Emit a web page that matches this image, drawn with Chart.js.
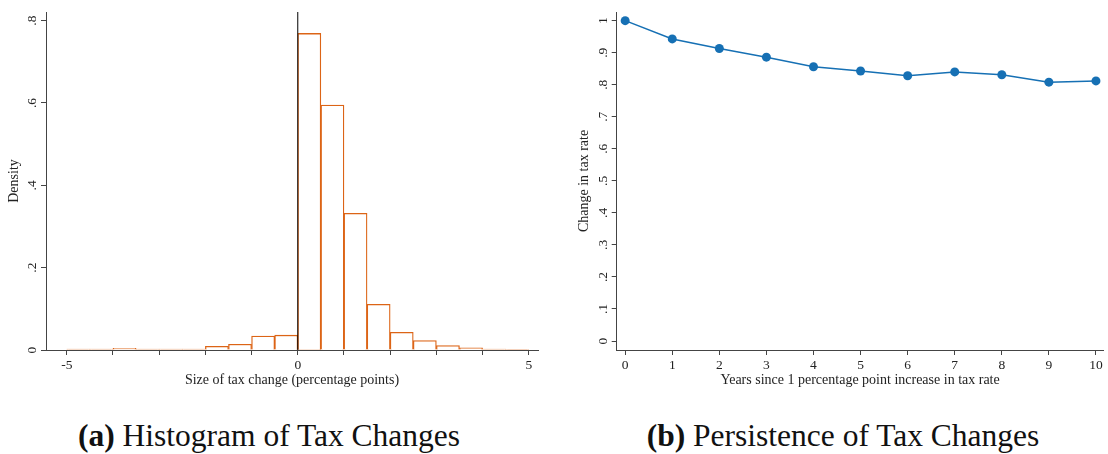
<!DOCTYPE html>
<html>
<head>
<meta charset="utf-8">
<script src="https://cdn.jsdelivr.net/npm/chart.js@4"></script>
<style>
	body { margin: 0; background: #fff; width: 1108px; height: 454px; position: relative; overflow: hidden; }
	#hist-wrap { position: absolute; left: 0; top: 0; width: 545px; height: 395px; }
	#line-wrap { position: absolute; left: 560px; top: 0; width: 548px; height: 395px; }
	.cap { position: absolute; top: 418px; font-family: "Liberation Serif", serif; font-size: 31.5px; color: #111; white-space: nowrap; transform: translateX(-50%); }
	.cap b { font-weight: bold; }
</style>
</head>
<body>
<div id="hist-wrap"><canvas id="hist-chart" width="545" height="395"></canvas></div>
<div id="line-wrap"><canvas id="line-chart" width="548" height="395"></canvas></div>
<div class="cap" style="left:269px"><b>(a)</b> Histogram of Tax Changes</div>
<div class="cap" style="left:843px"><b>(b)</b> Persistence of Tax Changes</div>
<script>
// histogram: bin centers (width 0.5) and density
const binCenters = [-4.75, -4.25, -3.75, -3.25, -2.75, -2.25, -1.75, -1.25, -0.75, -0.25,
	0.25, 0.75, 1.25, 1.75, 2.25, 2.75, 3.25, 3.75, 4.25, 4.75];
const density = [0.002, 0.002, 0.004, 0.002, 0.002, 0.002, 0.009, 0.014, 0.034, 0.036,
	0.769, 0.595, 0.332, 0.111, 0.043, 0.023, 0.011, 0.005, 0.002, 0.001];

// persistence
const years = [0, 1, 2, 3, 4, 5, 6, 7, 8, 9, 10];
const taxChange = [1.0, 0.943, 0.913, 0.886, 0.856, 0.843, 0.828, 0.840, 0.831, 0.808, 0.812];

const serif = 'Liberation Serif';
const axisColor = '#444';
const orange = 'rgb(220,100,22)';
const blue = 'rgb(22,112,180)';

const noLead = (v) => v === 0 ? '0' : (Math.round(v * 10) / 10).toString().replace(/^0/, '');

new Chart(document.querySelector('#hist-chart'), {
	type: 'bar',
	data: {
		datasets: [
			{
				label: 'Density',
				data: binCenters.map((c, i) => ({ x: c, y: density[i] })),
				backgroundColor: '#fff',
				borderColor: orange,
				borderWidth: 1.3,
				barPercentage: 1,
				categoryPercentage: 1,
				order: 2
			},
			{
				type: 'line',
				label: 'zero',
				data: [{ x: 0, y: 0 }, { x: 0, y: 0.821 }],
				borderColor: '#000',
				borderWidth: 1,
				pointRadius: 0,
				order: 1
			}
		]
	},
	options: {
		responsive: false,
		animation: false,
		layout: { padding: { top: 12, right: 7, left: 0, bottom: 0 } },
		plugins: { legend: { display: false }, tooltip: { enabled: false } },
		scales: {
			x: {
				type: 'linear',
				min: -5.45,
				max: 5.2,
				offset: false,
				afterFit: (s) => { s.height = 45; },
				border: { color: axisColor, width: 1 },
				grid: { drawOnChartArea: false, offset: false, tickLength: 5, color: axisColor },
				ticks: {
					stepSize: 1,
					includeBounds: false,
					maxRotation: 0,
					autoSkip: false,
					padding: 2,
					color: '#222',
					font: { family: serif, size: 13.5 },
					callback: (v) => v % 5 === 0 ? String(v) : ''
				},
				title: {
					display: true,
					text: 'Size of tax change (percentage points)',
					color: '#222',
					font: { family: serif, size: 14 },
					padding: { top: 0, bottom: 6 }
				}
			},
			y: {
				min: 0,
				max: 0.821,
				afterFit: (s) => { s.width = 46; },
				border: { color: axisColor, width: 1 },
				grid: { drawOnChartArea: false, tickLength: 5, color: axisColor },
				ticks: {
					stepSize: 0.2,
					includeBounds: false,
					minRotation: 90,
					maxRotation: 90,
					crossAlign: 'center',
					padding: 3,
					color: '#222',
					font: { family: serif, size: 13.5 },
					callback: noLead
				},
				title: {
					display: true,
					text: 'Density',
					color: '#222',
					font: { family: serif, size: 14 },
					padding: { top: 6, bottom: 0 }
				}
			}
		}
	}
});

new Chart(document.querySelector('#line-chart'), {
	type: 'line',
	data: {
		datasets: [
			{
				label: 'Change in tax rate',
				data: years.map((y, i) => ({ x: y, y: taxChange[i] })),
				borderColor: blue,
				backgroundColor: blue,
				borderWidth: 1.5,
				pointRadius: 4.5,
				pointBackgroundColor: blue,
				pointBorderWidth: 0
			}
		]
	},
	options: {
		responsive: false,
		animation: false,
		layout: { padding: { top: 12, right: 2, left: 0, bottom: 0 } },
		plugins: { legend: { display: false }, tooltip: { enabled: false } },
		scales: {
			x: {
				type: 'linear',
				min: -0.18,
				max: 10.16,
				afterFit: (s) => { s.height = 45; },
				border: { color: axisColor, width: 1 },
				grid: { drawOnChartArea: false, tickLength: 5, color: axisColor },
				ticks: {
					stepSize: 1,
					includeBounds: false,
					maxRotation: 0,
					autoSkip: false,
					padding: 2,
					color: '#222',
					font: { family: serif, size: 13.5 }
				},
				title: {
					display: true,
					text: 'Years since 1 percentage point increase in tax rate',
					color: '#222',
					font: { family: serif, size: 14 },
					padding: { top: 0, bottom: 6 }
				}
			},
			y: {
				min: -0.028,
				max: 1.027,
				afterFit: (s) => { s.width = 56.7; },
				border: { color: axisColor, width: 1 },
				grid: { drawOnChartArea: false, tickLength: 5, color: axisColor },
				ticks: {
					stepSize: 0.1,
					includeBounds: false,
					minRotation: 90,
					maxRotation: 90,
					crossAlign: 'center',
					padding: 3,
					color: '#222',
					font: { family: serif, size: 13.5 },
					callback: noLead
				},
				title: {
					display: true,
					text: 'Change in tax rate',
					color: '#222',
					font: { family: serif, size: 14 },
					padding: { top: 16, bottom: 0 }
				}
			}
		}
	}
});
</script>
</body>
</html>
